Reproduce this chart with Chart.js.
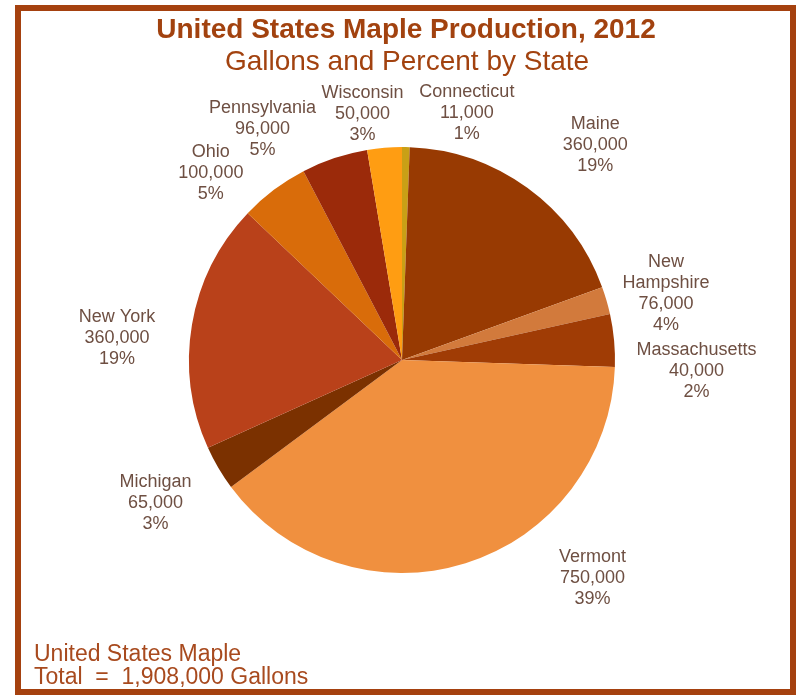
<!DOCTYPE html>
<html>
<head>
<meta charset="utf-8">
<title>United States Maple Production, 2012</title>
<script src="https://cdn.jsdelivr.net/npm/chart.js@4/dist/chart.umd.min.js"></script>
<style>
  html, body { margin: 0; padding: 0; background: #ffffff; }
  canvas { display: block; }
</style>
</head>
<body>
<canvas id="maple" width="798" height="695"></canvas>
<script>
// Slices run clockwise from 12 o'clock.
const states = ['Connecticut', 'Maine', 'Massachusetts', 'New Hampshire', 'Vermont',
                'Michigan', 'New York', 'Ohio', 'Pennsylvania', 'Wisconsin'];
const gallons = [11000, 360000, 40000, 76000, 750000, 65000, 360000, 100000, 96000, 50000];
const sliceColors = ['#c9a016', '#983a02', '#d27a3c', '#a03c05', '#f0903f',
                     '#7b3100', '#b9411a', '#d96c0a', '#9b2a0a', '#ff9d12'];
// Label text lines (state names may wrap)
const labelNames = [['Connecticut'], ['Maine'], ['Massachusetts'], ['New', 'Hampshire'], ['Vermont'],
                    ['Michigan'], ['New York'], ['Ohio'], ['Pennsylvania'], ['Wisconsin']];
// Nudge of each label block away from its slice's outer midpoint, in px
const labelNudge = [[61, -34], [68, -43], [90, 71], [52, -47], [127, 15],
                    [-63, 35], [-75, 14], [-63, -17], [-72, -29], [-22, -34]];

const titleText = 'United States Maple Production, 2012';
const subtitleText = 'Gallons and Percent by State';

const total = gallons.reduce((a, b) => a + b, 0);
const fmt = n => n.toLocaleString('en-US');

const decorations = {
  id: 'decorations',
  beforeDraw(chart) {
    const ctx = chart.ctx;
    ctx.save();
    ctx.fillStyle = '#ffffff';
    ctx.fillRect(0, 0, chart.width, chart.height);
    ctx.restore();
  },
  afterDraw(chart) {
    const ctx = chart.ctx;
    ctx.save();

    // frame
    ctx.strokeStyle = '#a5410f';
    ctx.lineWidth = 6;
    ctx.strokeRect(18, 8, 775, 684);

    // titles
    ctx.textAlign = 'center';
    ctx.textBaseline = 'alphabetic';
    ctx.fillStyle = '#a2420f';
    ctx.font = 'bold 28px "Liberation Sans", Arial, sans-serif';
    ctx.fillText(titleText, 406, 38);
    ctx.font = '28px "Liberation Sans", Arial, sans-serif';
    ctx.fillText(subtitleText, 407, 70);

    // slice labels: name, gallons, percent
    ctx.fillStyle = '#6e4f42';
    ctx.font = '18px "Liberation Sans", Arial, sans-serif';
    ctx.textBaseline = 'middle';
    const lineH = 21;
    const arcs = chart.getDatasetMeta(0).data;
    arcs.forEach((arc, i) => {
      const p = arc.getProps(['x', 'y', 'startAngle', 'endAngle', 'outerRadius'], true);
      const mid = (p.startAngle + p.endAngle) / 2;
      const ex = p.x + Math.cos(mid) * p.outerRadius;
      const ey = p.y + Math.sin(mid) * p.outerRadius;
      const cx = ex + labelNudge[i][0];
      const cy = ey + labelNudge[i][1];
      const lines = labelNames[i].concat([fmt(gallons[i]), Math.round(gallons[i] / total * 100) + '%']);
      const top = cy - (lines.length - 1) * lineH / 2;
      lines.forEach((t, k) => ctx.fillText(t, cx, top + k * lineH));
    });

    // total note
    ctx.textAlign = 'left';
    ctx.textBaseline = 'alphabetic';
    ctx.fillStyle = '#a84a1e';
    ctx.font = '23px "Liberation Sans", Arial, sans-serif';
    ctx.fillText('United States Maple', 34, 661);
    ctx.fillText('Total  =  ' + fmt(total) + ' Gallons', 34, 684);

    ctx.restore();
  }
};

new Chart(document.getElementById('maple'), {
  type: 'pie',
  data: {
    labels: states,
    datasets: [{
      data: gallons,
      backgroundColor: sliceColors,
      borderWidth: 0,
      hoverOffset: 0
    }]
  },
  options: {
    responsive: false,
    animation: false,
    events: [],
    layout: { padding: { top: 147, bottom: 122, left: 189, right: 183 } },
    plugins: {
      legend: { display: false },
      title: { display: false },
      tooltip: { enabled: false }
    }
  },
  plugins: [decorations]
});
</script>
</body>
</html>
